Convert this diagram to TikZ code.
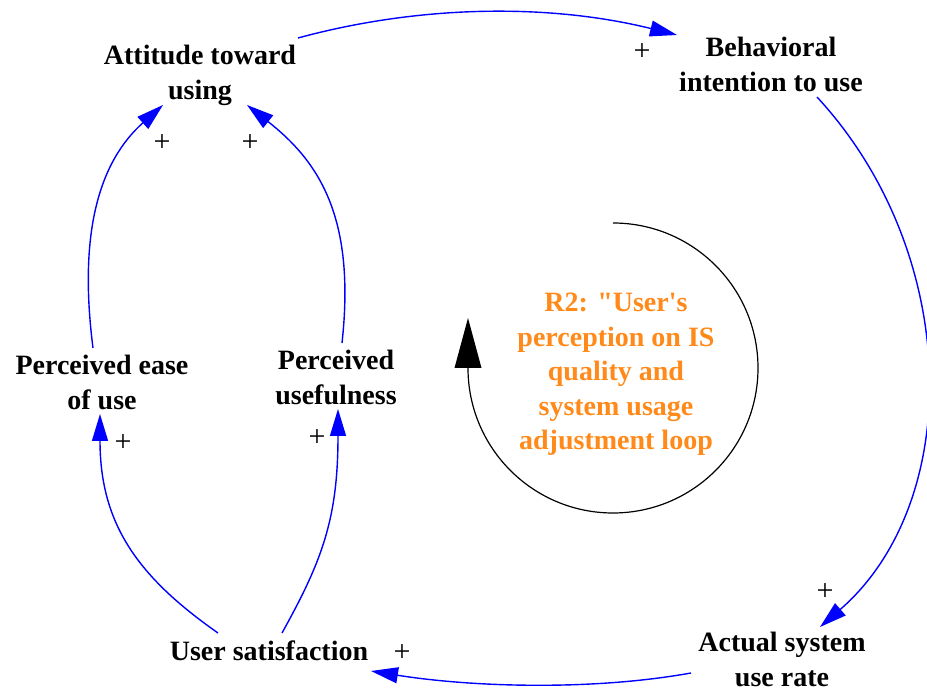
\documentclass[tikz,border=0pt]{standalone}
\usepackage{fontspec}
\setmainfont{Liberation Serif}[Ligatures=TeXOff]
\usetikzlibrary{arrows.meta}
\definecolor{linkblue}{RGB}{0,0,255}
\definecolor{looporange}{RGB}{255,137,25}
\begin{document}
\begin{tikzpicture}[x=1pt,y=1pt,
  var/.style={align=center, inner sep=0pt, font=\fontsize{28}{34.5}\selectfont\bfseries},
  pol/.style={inner sep=0pt, font=\fontsize{30}{30}\selectfont},
  looptext/.style={var, text=looporange},
  link/.style={draw=linkblue, line width=1.4pt, -{Triangle[length=27pt,width=16pt]}},
  loopline/.style={draw=black, line width=1.2pt}]
\useasboundingbox (0,0) rectangle (927,691);

% variables
\node[var] (att) at (200,615.65) {\strut Attitude toward\\\strut using};
\node[var] (beh) at (771,623.65) {\strut Behavioral\\\strut intention to use};
\node[var] (peu) at (102,305.65) {\strut Perceived ease\\\strut of use};
\node[var] (pu)  at (336,310.65) {\strut Perceived\\\strut usefulness};
\node[var] (us)  at (269,36.9)   {\strut User satisfaction};
\node[var] (asu) at (782,28.65)  {\strut Actual system\\\strut use rate};

% loop name
\node[looptext] (loop) at (616,316.9) {\strut R2: "User's\\\strut perception on IS\\\strut quality and\\\strut system usage\\\strut adjustment loop};

% loop direction symbol
\draw[loopline] (613,468) arc[start angle=90, end angle=-180, radius=145];
\fill (454.5,323) -- (481.5,323) -- (468,373) -- cycle;

% causal links
\draw[link] ([shift={(98,37.35)}]att.center) .. controls +(125,34) and +(-125,31) .. ([shift={(-94,32.35)}]beh.center);
\draw[link] ([shift={(46,-29.65)}]beh.center) .. controls +(145,-157) and +(144,125) .. ([shift={(38,35.35)}]asu.center);
\draw[link] ([shift={(-91,-10.65)}]asu.center) .. controls +(-100,-18) and +(100,-16) .. ([shift={(102,-16.9)}]us.center);
\draw[link] ([shift={(-51,21.1)}]us.center) .. controls +(-80,56) and +(0,-110) .. ([shift={(-2,-28.65)}]peu.center);
\draw[link] ([shift={(13,21.1)}]us.center) .. controls +(40,72) and +(0,-110) .. ([shift={(2,-28.65)}]pu.center);
\draw[link] ([shift={(-9,37.35)}]peu.center) .. controls +(-15,117) and +(-63,-56) .. ([shift={(-37,-29.65)}]att.center);
\draw[link] ([shift={(6,37.35)}]pu.center) .. controls +(14,127) and +(71,-56) .. ([shift={(47,-29.65)}]att.center);

% polarities
\node[pol] (p1) at (642,639) {+};
\node[pol] (p2) at (825,99) {+};
\node[pol] (p3) at (402,38) {+};
\node[pol] (p4) at (123,248) {+};
\node[pol] (p5) at (317,253) {+};
\node[pol] (p6) at (162,548) {+};
\node[pol] (p7) at (250,548) {+};
\end{tikzpicture}
\end{document}
